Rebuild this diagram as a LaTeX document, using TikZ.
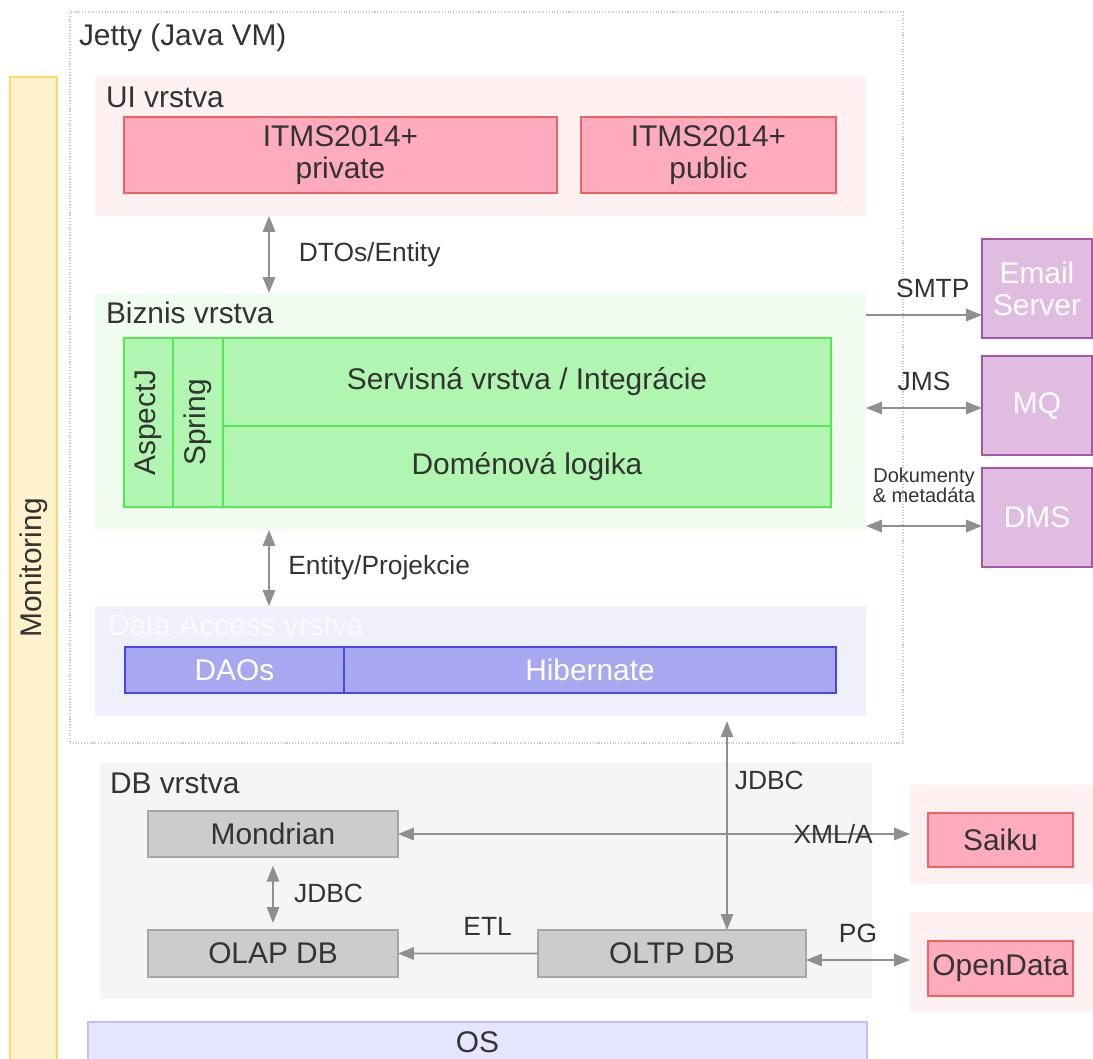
\documentclass[tikz,border=0pt]{standalone}
\usepackage{fontspec}
\setmainfont{Liberation Sans}
\usepackage{xcolor}
\usepackage{tikz}
\usetikzlibrary{arrows.meta,positioning}

\definecolor{txt}{HTML}{333333}
\definecolor{arr}{HTML}{8F8F8F}
\definecolor{monfill}{HTML}{FFF2CC}
\definecolor{monline}{HTML}{FFD966}
\definecolor{uiarea}{HTML}{FFF0F2}
\definecolor{uifill}{HTML}{FFABBE}
\definecolor{uiline}{HTML}{EE6262}
\definecolor{bizarea}{HTML}{F1FCF1}
\definecolor{bizfill}{HTML}{B0F5B0}
\definecolor{bizline}{HTML}{55E855}
\definecolor{daarea}{HTML}{F0F0FC}
\definecolor{dafill}{HTML}{A8A8F0}
\definecolor{daline}{HTML}{4848E8}
\definecolor{dalbl}{HTML}{F9F9FF}
\definecolor{dbarea}{HTML}{F5F5F5}
\definecolor{dbfill}{HTML}{CCCCCC}
\definecolor{dbline}{HTML}{A6A6A6}
\definecolor{extfill}{HTML}{E0BCE0}
\definecolor{extline}{HTML}{A855A8}
\definecolor{osfill}{HTML}{E5E5FF}
\definecolor{osline}{HTML}{BDBDFF}

\begin{document}
\begin{tikzpicture}[x=0.02cm,y=-0.02cm,>={Triangle[length=9pt,width=7pt]},
  every node/.style={inner sep=0pt,outer sep=0pt,text=txt,font=\fontsize{17}{18.2}\selectfont},
  wh/.style 2 args={minimum width=#1*0.02cm,minimum height=#2*0.02cm},
  zone/.style={fill=#1},
  heading/.style={anchor=base west},
  part/.style={draw=#1line,fill=#1fill,line width=1.1pt,align=center},
  conn/.style={draw=arr,line width=1.1pt},
  lbl/.style={font=\fontsize{15}{15}\selectfont},
  smalllbl/.style={font=\fontsize{11.4}{11.4}\selectfont,align=center}]
\useasboundingbox (0,0) rectangle (1093,1059);

\node[draw=gray!45,densely dotted,line width=0.6pt,wh={833}{731}] (jetty) at (486.5,377.5) {};
\node[heading] (jettyname) at (79,45) {Jetty (Java VM)};

\node[part=mon,wh={47}{1000}] (mon) at (33.5,577) {};
\node[rotate=90] (monname) at (33.5,568) {Monitoring};

\node[zone=uiarea,wh={771}{139}] (ui) at (480.5,146.5) {};
\node[heading] (uiname) at (106,107) {UI vrstva};
\node[part=ui,wh={433}{76}] (private) at (340.5,155) {ITMS2014+\\private};
\node[part=ui,wh={255}{76},right=0.48cm of private] (public) {ITMS2014+\\public};

\node[zone=bizarea,wh={771}{237}] (biz) at (480.5,411.5) {};
\node[heading] (bizname) at (106,323) {Biznis vrstva};
\node[part=biz,wh={169}{49},rotate=90] (aspectj) at (148.5,422.5) {AspectJ};
\node[part=biz,wh={169}{50},rotate=90] (spring) at (198,422.5) {Spring};
\node[part=biz,wh={608}{88}] (serv) at (527,382) {Servisná vrstva / Integrácie};
\node[part=biz,wh={608}{81},below=0cm of serv] (domain) {Doménová logika};

\node[zone=daarea,wh={771}{110}] (da) at (480.5,661) {};
\node[heading,text=dalbl] (daname) at (108,635) {Data Access vrstva};
\node[part=da,text=white,wh={219}{46}] (daos) at (234.5,670) {DAOs};
\node[part=da,text=white,wh={492}{46},right=0cm of daos] (hibernate) {Hibernate};

\node[zone=dbarea,wh={772}{237}] (db) at (486,880.5) {};
\node[heading] (dbname) at (110,793) {DB vrstva};
\node[part=db,wh={250}{46}] (mondrian) at (273,834) {Mondrian};
\node[part=db,wh={250}{47},below=1.46cm of mondrian] (olap) {OLAP DB};
\node[part=db,wh={268}{47}] (oltp) at (672,953.5) {OLTP DB};

\node[part=ext,text=white,wh={110}{99}] (email) at (1037,288.5) {Email\\Server};
\node[part=ext,text=white,wh={110}{99},below=0.36cm of email] (mq) {MQ};
\node[part=ext,text=white,wh={110}{99},below=0.26cm of mq] (dms) {DMS};

\node[zone=uiarea,wh={183}{99}] (saikuzone) at (1001.5,834.5) {};
\node[part=ui,wh={145}{54}] (saiku) at (1000.5,840) {Saiku};
\node[zone=uiarea,wh={183}{99}] (odzone) at (1001.5,961.5) {};
\node[part=ui,wh={145}{55}] (opendata) at (1000.5,968.5) {OpenData};

\node[part=os,wh={779}{40}] (os) at (477.5,1042) {OS};

\coordinate (upx) at (269,0);
\coordinate (jdbcx) at (727,0);
\coordinate (smtpy) at (0,315);
\coordinate (jmsy) at (0,408);
\coordinate (dmsy) at (0,526);
\coordinate (pgy) at (0,960);

\path (ui.south -| upx) edge[conn,<->] node[lbl,right=17pt] {DTOs/Entity} (biz.north -| upx);
\path (biz.south -| upx) edge[conn,<->] node[lbl,right=11pt] {Entity/Projekcie} (da.north -| upx);
\path (biz.east |- smtpy) edge[conn,->] node[lbl,above=10pt,xshift=5pt] {SMTP} (email.west |- smtpy);
\path (biz.east |- jmsy) edge[conn,<->] node[lbl,above=10pt] {JMS} (mq.west |- jmsy);
\path (biz.east |- dmsy) edge[conn,<->] node[smalllbl,above=13pt] {Dokumenty\\\& metadáta} (dms.west |- dmsy);
\path (da.south -| jdbcx) edge[conn,<->,shorten <=3pt] node[lbl,pos=0.3,right=4.5pt] {JDBC} (oltp.north -| jdbcx);
\path (mondrian.east) edge[conn,<->] node[lbl,pos=0.85] {XML/A} (saikuzone.west |- mondrian.east);
\path (mondrian.south) edge[conn,<->,shorten <=5pt,shorten >=4pt] node[lbl,right=12pt] {JDBC} (olap.north);
\path (oltp.west) edge[conn,->] node[lbl,pos=0.36,above=10pt] {ETL} (olap.east);
\path (oltp.east |- pgy) edge[conn,<->] node[lbl,above=10pt] {PG} (odzone.west |- pgy);
\end{tikzpicture}
\end{document}
